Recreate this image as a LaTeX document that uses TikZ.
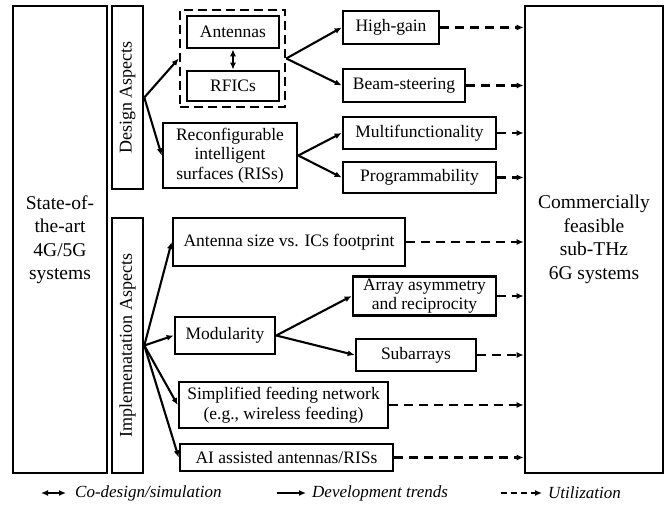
\documentclass[tikz,border=0pt]{standalone}
\usepackage{amsmath}
\usepackage{fontspec}
\setmainfont{Liberation Serif}
\usetikzlibrary{arrows.meta}

\tikzset{
  box/.style={draw,line width=2.6pt,inner sep=0pt,align=center,
    font=\fontsize{17.5}{19.5}\selectfont},
  bigbox/.style={box,font=\fontsize{19.5}{23.5}\selectfont},
  vtext/.style={rotate=90,inner sep=0pt,font=\fontsize{18}{21}\selectfont},
  trend/.style={line width=2.1pt,-{Latex[length=7pt,width=6pt]}},
  codes/.style={line width=2.1pt,{Latex[length=7pt,width=6pt]}-{Latex[length=7pt,width=6pt]}},
  utilz/.style={line width=2.1pt,dash pattern=on 9pt off 6pt,-{Latex[length=7pt,width=6pt]}},
  legtext/.style={anchor=west,inner sep=0pt,font=\fontsize{17}{20}\selectfont\itshape}
}

\begin{document}
\begin{tikzpicture}[x=1pt,y=-1pt]
\useasboundingbox (0,0) rectangle (665,508);

\node[bigbox,minimum width=94pt,minimum height=467pt] (left) at (60,239.5) {State-of-\\the-art\\4G/5G\\systems};
\node[bigbox,minimum width=138pt,minimum height=467pt] (right) at (594,239.5) {Commercially\\feasible\\sub-THz\\6G systems};

\node[box,minimum width=31pt,minimum height=183pt] (design) at (127.5,97.5) {};
\node[vtext] (designtxt) at (design) {Design Aspects};
\node[box,minimum width=31pt,minimum height=255pt] (impl) at (127.5,345.5) {};
\node[vtext] (impltxt) at (impl) {Implemenatation Aspects};

\node[box,dashed,dash pattern=on 9pt off 5pt,minimum width=105pt,minimum height=97pt] (group) at (232.5,58.5) {};
\node[box,minimum width=92pt,minimum height=32pt] (ant) at (233,32) {Antennas};
\node[box,minimum width=92pt,minimum height=30pt] (rfic) at (233,86) {RFICs};
\node[box,minimum width=134pt,minimum height=65pt] (ris) at (230,155.5) {Reconfigurable\\intelligent\\surfaces (RISs)};

\node[box,minimum width=96pt,minimum height=33pt] (high) at (391,27.5) {High-gain};
\node[box,minimum width=122pt,minimum height=33pt] (beam) at (404,85.5) {Beam-steering};
\node[box,minimum width=153pt,minimum height=32pt] (multi) at (419.5,133) {Multifunctionality};
\node[box,minimum width=153pt,minimum height=31pt] (prog) at (419.5,177.5) {Programmability};

\node[box,minimum width=232pt,minimum height=48pt] (size) at (289,242) {Antenna size vs. ICs footprint};
\node[box,minimum width=100pt,minimum height=37pt] (modu) at (225,335.5) {Modularity};
\node[box,minimum width=143pt,minimum height=39pt] (asym) at (424.5,296) {Array asymmetry\\and reciprocity};
\node[box,minimum width=120pt,minimum height=32pt] (sub) at (416,355) {Subarrays};
\node[box,minimum width=209pt,minimum height=46pt] (feed) at (283.5,405) {Simplified feeding network\\(e.g., wireless feeding)};
\node[box,minimum width=213pt,minimum height=27pt] (ai) at (286.5,457.5) {AI assisted antennas/RISs};

\draw[trend] (design.east) -- (group.west);
\draw[trend] (design.east) -- (ris.west);
\draw[codes] (ant) -- (rfic);
\draw[trend] (group.east) -- (high.west);
\draw[trend] (group.east) -- (beam.west);
\draw[trend] (ris.east) -- (multi.west);
\draw[trend] (ris.east) -- (prog.west);

\draw[trend] (impl.east) -- (size.west);
\draw[trend] (impl.east) -- (modu.west);
\draw[trend] (impl.east) -- (feed.west);
\draw[trend] (impl.east) -- (ai.west);
\draw[trend] (modu.east) -- (asym.west);
\draw[trend] (modu.east) -- (sub.west);

\draw[utilz] (high.east) -- (high.east -| right.west);
\draw[utilz] (beam.east) -- (beam.east -| right.west);
\draw[utilz] (multi.east) -- (multi.east -| right.west);
\draw[utilz] (prog.east) -- (prog.east -| right.west);
\draw[utilz] (size.east) -- (size.east -| right.west);
\draw[utilz] (asym.east) -- (asym.east -| right.west);
\draw[utilz] (sub.east) -- (sub.east -| right.west);
\draw[utilz] (feed.east) -- (feed.east -| right.west);
\draw[utilz] (ai.east) -- (ai.east -| right.west);

\coordinate (codesa) at (41,493);
\coordinate (codesb) at (66,493);
\node[legtext] (codestxt) at (75,493) {Co-design/simulation};
\coordinate (trenda) at (277,493);
\coordinate (trendb) at (306,493);
\node[legtext] (trendtxt) at (312,493) {Development trends};
\coordinate (utilza) at (501,493);
\coordinate (utilzb) at (542,493);
\node[legtext] (utilztxt) at (548,493) {Utilization};
\draw[codes] (codesa) -- (codesb);
\draw[trend] (trenda) -- (trendb);
\draw[utilz,dash pattern=on 6pt off 4pt] (utilza) -- (utilzb);
\end{tikzpicture}
\end{document}
